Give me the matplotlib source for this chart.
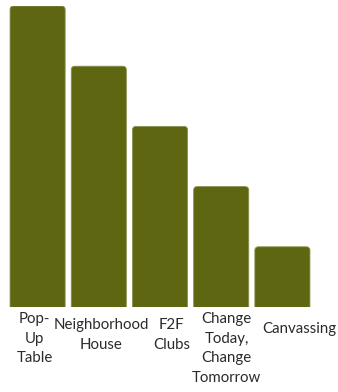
import matplotlib
matplotlib.use("Agg")
import matplotlib.pyplot as plt
from matplotlib.patches import FancyBboxPatch

# data
labels = ["Pop-\nUp\nTable", "Neighborhood\nHouse", "F2F\nClubs",
          "Change\nToday,\nChange\nTomorrow", "Canvassing"]
values = [5, 4, 3, 2, 1]

# label placement tweaks (px offsets from bar centre / label top)
label_dx = [-3, 2.5, 11.5, 5.5, 16.5]
label_top = [312, 318, 318, 312, 322]

W, H = 338, 392
fig = plt.figure(figsize=(W / 100, H / 100), dpi=100)
ax = fig.add_axes([7 / W, 85 / H, 306 / W, 301 / H])
ax.set_xlim(-0.5, len(values) - 0.5)
ax.set_ylim(0, max(values))
ax.axis("off")

color = "#5e6612"
bw = 0.9
for i, v in enumerate(values):
    p = FancyBboxPatch((i - bw / 2, -0.2), bw, v + 0.2,
                       boxstyle="round,pad=0,rounding_size=0.06",
                       facecolor=color, edgecolor="#8a9150", linewidth=0.6,
                       clip_on=True)
    ax.add_patch(p)

for i, lab in enumerate(labels):
    # convert bar centre to figure pixels
    xpix = ax.transData.transform((i, 0))[0] + label_dx[i]
    fig.text(xpix / W, 1 - label_top[i] / H, lab, ha="center", va="top",
             fontsize=10.8, family=["Lato", "DejaVu Sans"], color="#2b2b2b",
             linespacing=1.52)

fig.savefig("out.png", dpi=100)
